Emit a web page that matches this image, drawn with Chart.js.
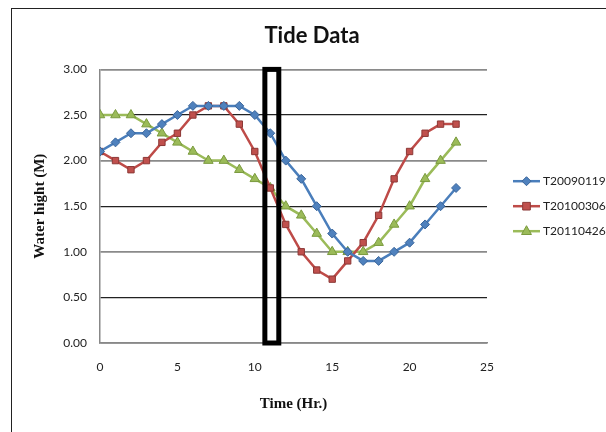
<!DOCTYPE html>
<html>
<head>
<meta charset="utf-8">
<title>Tide Data</title>
<script src="https://cdn.jsdelivr.net/npm/chart.js@4.4.0/dist/chart.umd.min.js"></script>
<style>
html, body { margin:0; padding:0; background:#fff; overflow:hidden; }
#wrap { position:relative; width:606px; height:432px; }
#cornice { position:absolute; left:11px; top:8px; width:700px; height:500px; border:1px solid #222; }
canvas { position:absolute; left:0; top:0; }
</style>
</head>
<body>
<div id="wrap">
  <div id="cornice"></div>
  <canvas id="grafico" width="606" height="432"></canvas>
</div>
<script>
// dati
const ore = [0,1,2,3,4,5,6,7,8,9,10,11,12,13,14,15,16,17,18,19,20,21,22,23];
const serie = ["T20090119", "T20100306", "T20110426"];
const livelli2009 = [2.1,2.2,2.3,2.3,2.4,2.5,2.6,2.6,2.6,2.6,2.5,2.3,2.0,1.8,1.5,1.2,1.0,0.9,0.9,1.0,1.1,1.3,1.5,1.7];
const livelli2010 = [2.1,2.0,1.9,2.0,2.2,2.3,2.5,2.6,2.6,2.4,2.1,1.7,1.3,1.0,0.8,0.7,0.9,1.1,1.4,1.8,2.1,2.3,2.4,2.4];
const livelli2011 = [2.5,2.5,2.5,2.4,2.3,2.2,2.1,2.0,2.0,1.9,1.8,1.7,1.5,1.4,1.2,1.0,1.0,1.0,1.1,1.3,1.5,1.8,2.0,2.2];
const tickX = [0,5,10,15,20,25];
const tickY = [0,0.5,1,1.5,2,2.5,3];
const riquadroOre = [10.65, 11.55]; // rettangolo nero di evidenziazione

const stili = [
  {linea:"#4A7EBB", fill:"#4F81BD", bordo:"#3A659A", punto:"rectRot", r:4.5},
  {linea:"#BE4B48", fill:"#C0504D", bordo:"#8C3836", punto:"rect", r:4.5},
  {linea:"#9BBB59", fill:"#9BBB59", bordo:"#7A9A3E", punto:"triangle", r:5.5}
];
const valori = [livelli2009, livelli2010, livelli2011];

function disegnaPunto(ctx, tipo, x, y, r, fill, bordo){
  ctx.save();
  ctx.beginPath();
  if (tipo === "rectRot") {
    ctx.moveTo(x, y - r); ctx.lineTo(x + r, y); ctx.lineTo(x, y + r); ctx.lineTo(x - r, y);
  } else if (tipo === "rect") {
    ctx.rect(x - r*0.85, y - r*0.85, r*1.7, r*1.7);
  } else {
    ctx.moveTo(x, y - r); ctx.lineTo(x + r*0.9, y + r*0.6); ctx.lineTo(x - r*0.9, y + r*0.6);
  }
  ctx.closePath();
  ctx.fillStyle = fill; ctx.fill();
  ctx.strokeStyle = bordo; ctx.lineWidth = 1; ctx.stroke();
  ctx.restore();
}

const legendaDx = {
  id: "legendaDx",
  afterDraw(chart){
    const ctx = chart.ctx;
    const ca = chart.chartArea;
    const cy = (ca.top + ca.bottom) / 2;
    chart.data.datasets.forEach((ds, i) => {
      const s = stili[i];
      const y = cy - 25 + i * 25;
      const x0 = ca.right + 26;
      ctx.save();
      ctx.strokeStyle = s.linea; ctx.lineWidth = 2.5;
      ctx.beginPath(); ctx.moveTo(x0, y); ctx.lineTo(x0 + 27, y); ctx.stroke();
      disegnaPunto(ctx, s.punto, x0 + 13.5, y, s.r, s.fill, s.bordo);
      ctx.fillStyle = "#222";
      ctx.font = "12px Lato";
      ctx.textBaseline = "middle";
      ctx.textAlign = "left";
      ctx.fillText(ds.label, x0 + 30, y);
      ctx.restore();
    });
  }
};

const riquadro = {
  id: "riquadro",
  afterDraw(chart){
    const sx = chart.scales.x, sy = chart.scales.y;
    const ctx = chart.ctx;
    const x1 = sx.getPixelForValue(riquadroOre[0]);
    const x2 = sx.getPixelForValue(riquadroOre[1]);
    const y1 = sy.getPixelForValue(3), y2 = sy.getPixelForValue(0);
    ctx.save();
    ctx.strokeStyle = "#000"; ctx.lineWidth = 5;
    ctx.strokeRect(x1, y1, x2 - x1, y2 - y1);
    ctx.restore();
  }
};

window.onload = () => {
  Chart.defaults.font.family = "Lato";
  Chart.defaults.color = "#222";

  let dati = { datasets: [] };
  for (let i = 0; i < serie.length; i++) {
    const s = stili[i];
    dati.datasets.push({
      label: serie[i],
      data: ore.map((h, k) => ({x: h, y: valori[i][k]})),
      borderColor: s.linea,
      backgroundColor: s.fill,
      borderWidth: 2.5,
      pointStyle: s.punto,
      pointRadius: s.r,
      pointBorderColor: s.bordo,
      pointBorderWidth: 1,
      pointBackgroundColor: s.fill,
      tension: 0
    });
  }

  new Chart(document.getElementById("grafico"), {
    type: "line",
    data: dati,
    options: {
      responsive: false,
      animation: false,
      layout: { padding: { left: 18, right: 0, top: 0, bottom: 0 } },
      plugins: {
        legend: { display: false },
        tooltip: { enabled: false },
        title: {
          display: true,
          text: "Tide Data",
          color: "#111",
          font: { size: 22, weight: "bold", family: "Lato" },
          padding: { top: 23, bottom: 20 }
        }
      },
      scales: {
        x: {
          type: "linear",
          min: 0, max: 25,
          afterBuildTicks: (sc) => { sc.ticks = tickX.map(v => ({value: v})); },
          afterFit: (sc) => { sc.height = 89; },
          grid: { display: false, drawTicks: false },
          border: { display: true, color: "#888", width: 1.5 },
          ticks: { padding: 17, font: { size: 12 }, maxRotation: 0 },
          title: {
            display: true,
            text: "Time (Hr.)",
            font: { family: "Liberation Serif", size: 15, weight: "bold" },
            color: "#111",
            padding: { top: 0, bottom: 19 }
          }
        },
        y: {
          min: 0, max: 3,
          afterBuildTicks: (sc) => { sc.ticks = tickY.map(v => ({value: v})); },
          afterFit: (sc) => { sc.width = 82; },
          grid: {
            drawTicks: false,
            color: (c) => (c.tick && c.tick.value % 1 === 0) ? "#8a8a8a" : "#222",
            lineWidth: (c) => (c.tick && c.tick.value % 1 === 0) ? 1.8 : 1.2
          },
          border: { display: true, color: "#888", width: 1.5 },
          ticks: { padding: 13, font: { size: 12 }, callback: (v) => v.toFixed(2) },
          title: {
            display: true,
            text: "Water hight (M)",
            font: { family: "Liberation Serif", size: 15, weight: "bold" },
            color: "#111",
            padding: { top: 13, bottom: 0 }
          }
        },
        // asse fantasma per riservare lo spazio della legenda a destra
        spazio: {
          type: "linear",
          position: "right",
          display: true,
          afterFit: (sc) => { sc.width = 119; },
          grid: { display: false, drawTicks: false },
          border: { display: false },
          ticks: { display: false }
        }
      }
    },
    plugins: [riquadro, legendaDx]
  });
};
</script>
</body>
</html>
